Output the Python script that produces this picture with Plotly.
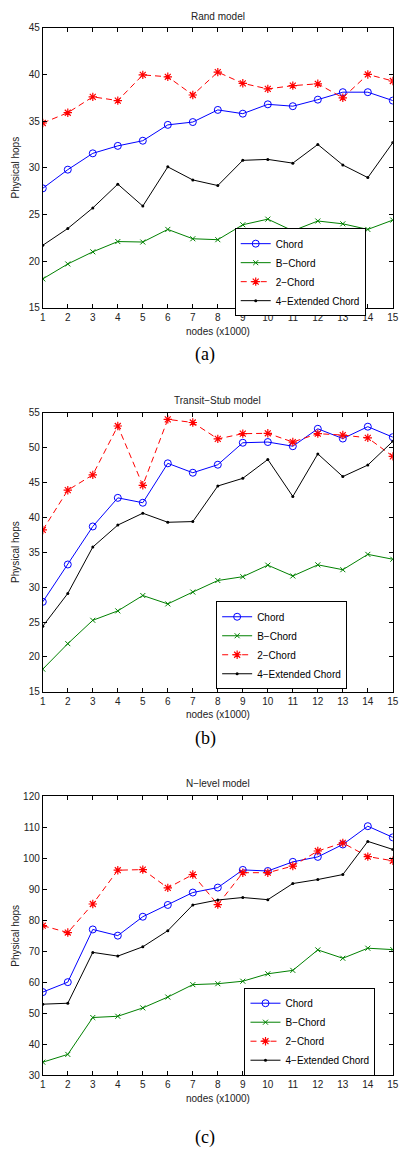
import plotly.graph_objects as go

W, H = 404, 1157
nodes = list(range(1, 16))
series_names = ["Chord", "B−Chord", "2−Chord", "4−Extended Chord"]

# Panel (a) Rand model
rand_chord = [27.8, 29.8, 31.55, 32.35, 32.9, 34.6, 34.9, 36.2, 35.8, 36.8, 36.6, 37.3, 38.1, 38.1, 37.2]
rand_bchord = [18.1, 19.7, 21.0, 22.1, 22.05, 23.4, 22.4, 22.3, 23.9, 24.5, 23.25, 24.3, 24.0, 23.4, 24.4]
rand_2chord = [34.8, 35.9, 37.6, 37.2, 39.95, 39.75, 37.8, 40.25, 39.05, 38.45, 38.8, 39.0, 37.5, 40.0, 39.3]
rand_4ext = [21.7, 23.5, 25.7, 28.25, 25.9, 30.1, 28.7, 28.1, 30.8, 30.9, 30.5, 32.5, 30.3, 28.95, 32.7]

# Panel (b) Transit-Stub model
ts_chord = [27.9, 33.25, 38.7, 42.8, 42.1, 47.75, 46.4, 47.55, 50.7, 50.8, 50.2, 52.7, 51.3, 53.0, 51.5]
ts_bchord = [18.25, 21.9, 25.25, 26.6, 28.8, 27.6, 29.3, 30.95, 31.5, 33.15, 31.6, 33.2, 32.5, 34.7, 34.0]
ts_2chord = [38.2, 43.9, 46.1, 53.1, 44.6, 54.05, 53.6, 51.25, 52.0, 52.05, 50.8, 52.0, 51.8, 51.4, 48.75]
ts_4ext = [24.4, 29.1, 35.75, 38.9, 40.6, 39.3, 39.4, 44.5, 45.6, 48.3, 43.0, 49.1, 45.85, 47.5, 50.9]

# Panel (c) N-level model
nl_chord = [56.9, 60.1, 77.1, 75.1, 81.2, 85.0, 89.0, 90.6, 96.3, 95.95, 98.9, 100.5, 104.5, 110.4, 106.8]
nl_bchord = [34.3, 36.8, 48.7, 49.1, 51.8, 55.3, 59.3, 59.6, 60.4, 62.8, 63.9, 70.5, 67.8, 71.05, 70.6]
nl_2chord = [78.3, 76.1, 85.3, 96.2, 96.4, 90.5, 94.8, 85.1, 95.4, 95.4, 97.55, 102.4, 105.0, 100.6, 99.25]
nl_4ext = [53.0, 53.3, 69.7, 68.5, 71.5, 76.7, 85.0, 86.6, 87.4, 86.7, 91.9, 93.2, 94.8, 105.5, 102.9]

panel_titles = ["Rand model", "Transit−Stub model", "N−level model"]
panel_labels = ["(a)", "(b)", "(c)"]
y_ranges = [[15, 45], [15, 55], [30, 120]]
y_dticks = [5, 5, 10]

panels = [
    [rand_chord, rand_bchord, rand_2chord, rand_4ext],
    [ts_chord, ts_bchord, ts_2chord, ts_4ext],
    [nl_chord, nl_bchord, nl_2chord, nl_4ext],
]

def px(x):
    return x / W

def py(y):
    return 1 - y / H

# plot-area pixel boxes (top, bottom)
boxes = [(22, 305), (411, 693), (798.7, 1080.7)]
x_left, x_right = 40.7, 398.7
title_y = [10.5, 398.3, 786]
xlabel_y = [328.5, 716, 1103.5]
label_y = [352, 740, 1143]
legend_top = [224.5, 601.5, 992]
legend_left = [237, 218, 247]

styles = [
    dict(mode="lines+markers", line=dict(color="#0000ff", width=1),
         marker=dict(symbol="circle-open", size=7, color="#0000ff", line=dict(width=1, color="#0000ff"))),
    dict(mode="lines+markers", line=dict(color="#008000", width=1),
         marker=dict(symbol="x-thin-open", size=5, color="#008000", line=dict(width=1, color="#008000"))),
    dict(mode="lines+markers", line=dict(color="#ff0000", width=1, dash="6px,4px"),
         marker=dict(symbol="asterisk-open", size=7, color="#ff0000", line=dict(width=1.2, color="#ff0000"))),
    dict(mode="lines+markers", line=dict(color="#000000", width=1),
         marker=dict(symbol="circle", size=3, color="#000000")),
]

fig = go.Figure()
font_main = "Liberation Sans, Arial, sans-serif"
annotations = []
layout_axes = {}

for i, data in enumerate(panels):
    sfx = "" if i == 0 else str(i + 1)
    leg = "legend" if i == 0 else f"legend{i + 1}"
    for name, vals, st in zip(series_names, data, styles):
        fig.add_trace(go.Scatter(x=nodes, y=vals, name=name, xaxis="x" + sfx, yaxis="y" + sfx,
                                 legend=leg, **st))
    top, bot = boxes[i]
    layout_axes["xaxis" + sfx] = dict(
        domain=[px(x_left), px(x_right)], anchor="y" + sfx, range=[1, 15],
        tickvals=nodes, ticks="inside", ticklen=4, tickcolor="black",
        showline=True, linecolor="black", linewidth=1, mirror="ticks",
        showgrid=False, zeroline=False, tickfont=dict(size=10, color="#222"),
        ticklabeloverflow="allow",
    )
    layout_axes["yaxis" + sfx] = dict(
        domain=[py(bot), py(top)], anchor="x" + sfx, range=y_ranges[i], dtick=y_dticks[i],
        ticks="inside", ticklen=4, tickcolor="black",
        showline=True, linecolor="black", linewidth=1, mirror="ticks",
        showgrid=False, zeroline=False, tickfont=dict(size=10, color="#222"),
        ticklabeloverflow="allow",
    )
    layout_axes[leg] = dict(
        x=px(legend_left[i]), y=py(legend_top[i]), xanchor="left", yanchor="top",
        bgcolor="white", bordercolor="black", borderwidth=1,
        font=dict(size=10, color="black", family=font_main),
    )
    cx = (x_left + x_right) / 2
    annotations.append(dict(text=panel_titles[i], x=px(cx), y=py(title_y[i]), xref="paper", yref="paper",
                            showarrow=False, font=dict(size=10, color="#222"), xanchor="center", yanchor="middle"))
    annotations.append(dict(text="nodes (x1000)", x=px(cx), y=py(xlabel_y[i]), xref="paper", yref="paper",
                            showarrow=False, font=dict(size=10, color="#222"), xanchor="center", yanchor="middle"))
    annotations.append(dict(text="Physical hops", x=px(13), y=py((top + bot) / 2), xref="paper", yref="paper",
                            showarrow=False, textangle=-90, font=dict(size=10, color="#222"),
                            xanchor="center", yanchor="middle"))
    annotations.append(dict(text=panel_labels[i], x=px(207), y=py(label_y[i]), xref="paper", yref="paper",
                            showarrow=False, font=dict(size=18, color="black", family="Liberation Serif, Times New Roman, serif"),
                            xanchor="center", yanchor="middle"))

fig.update_layout(
    width=W, height=H, autosize=False,
    margin=dict(l=0, r=0, t=0, b=0),
    paper_bgcolor="white", plot_bgcolor="white",
    font=dict(family=font_main, size=10, color="#222"),
    annotations=annotations,
    **layout_axes,
)

fig.write_html(
    "out.html",
    config={"displayModeBar": False, "staticPlot": True},
    post_script="document.documentElement.style.overflow='hidden';"
                "document.body.style.margin='0';document.body.style.padding='0';"
                "document.body.style.overflow='hidden';",
)
